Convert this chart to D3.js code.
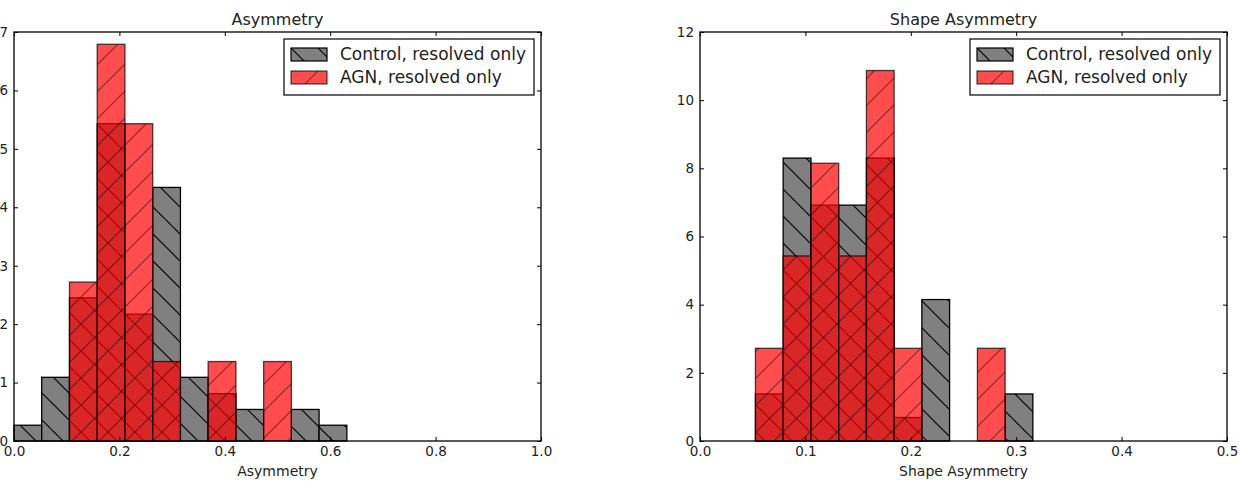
<!DOCTYPE html>
<html>
<head>
<meta charset="utf-8">
<script src="https://cdn.jsdelivr.net/npm/d3@7"></script>
<style>
  body { margin: 0; background: #fff; }
  svg text { font-family: "DejaVu Sans", sans-serif; fill: #222; }
</style>
</head>
<body>
<div id="chart"></div>
<script>
// histogram data (normalised counts)
var seriesNames = ["Control, resolved only", "AGN, resolved only"];

var asymEdges = [0, 0.0526, 0.1053, 0.1579, 0.2105, 0.2632, 0.3158, 0.3684, 0.4211, 0.4737, 0.5263, 0.5789, 0.6316];
var asymControl = [0.27, 1.09, 2.45, 5.43, 2.17, 4.34, 1.09, 0.81, 0.54, 0, 0.54, 0.27];
var asymAGN = [0, 0, 2.72, 6.79, 5.43, 1.36, 0, 1.36, 0, 1.36, 0, 0];
var asymXTicks = [0, 0.2, 0.4, 0.6, 0.8, 1.0];
var asymYTicks = [0, 1, 2, 3, 4, 5, 6, 7];

var shapeEdges = [0.0526, 0.0789, 0.1053, 0.1316, 0.1579, 0.1842, 0.2105, 0.2368, 0.2632, 0.2895, 0.3158];
var shapeControl = [1.38, 8.30, 6.92, 6.92, 8.30, 0.69, 4.15, 0, 0, 1.38];
var shapeAGN = [2.72, 5.43, 8.15, 5.43, 10.87, 2.72, 0, 0, 2.72, 0];
var shapeXTicks = [0, 0.1, 0.2, 0.3, 0.4, 0.5];
var shapeYTicks = [0, 2, 4, 6, 8, 10, 12];

var width = 1240, height = 485;

var svg = d3.select("#chart")
    .append("svg")
    .attr("width", width)
    .attr("height", height);

// hatch patterns, anchored to the page like matplotlib's
var defs = svg.append("defs");
var hs = 27;
var back = defs.append("pattern")
    .attr("id", "hatchBack")
    .attr("patternUnits", "userSpaceOnUse")
    .attr("width", hs).attr("height", hs);
back.append("path")
    .attr("d", `M0,0L${hs},${hs}M${-hs/2},${hs/2}L${hs/2},${hs*1.5}M${hs/2},${-hs/2}L${hs*1.5},${hs/2}`)
    .attr("stroke", "#000").attr("stroke-width", 1.2);
var fwd = defs.append("pattern")
    .attr("id", "hatchFwd")
    .attr("patternUnits", "userSpaceOnUse")
    .attr("width", hs).attr("height", hs);
fwd.append("path")
    .attr("d", `M0,${hs}L${hs},0M${-hs/2},${hs/2}L${hs/2},${-hs/2}M${hs/2},${hs*1.5}L${hs*1.5},${hs/2}`)
    .attr("stroke", "#000").attr("stroke-opacity", 0.45).attr("stroke-width", 1.2);

drawHist({
  left: 14, right: 541, top: 32, bottom: 441,
  xMax: 1.0, yMax: 7,
  edges: asymEdges, control: asymControl, agn: asymAGN,
  xTicks: asymXTicks, yTicks: asymYTicks,
  title: "Asymmetry", xLabel: "Asymmetry"
});

drawHist({
  left: 700, right: 1227, top: 32, bottom: 441,
  xMax: 0.5, yMax: 12,
  edges: shapeEdges, control: shapeControl, agn: shapeAGN,
  xTicks: shapeXTicks, yTicks: shapeYTicks,
  title: "Shape Asymmetry", xLabel: "Shape Asymmetry"
});

function drawHist(p) {
  var x = d3.scaleLinear().domain([0, p.xMax]).range([p.left, p.right]);
  var y = d3.scaleLinear().domain([0, p.yMax]).range([p.bottom, p.top]);

  var g = svg.append("g");

  var ctrl = p.control.map((v, i) => ({x0: p.edges[i], x1: p.edges[i + 1], v: v})).filter(d => d.v > 0);
  var agn = p.agn.map((v, i) => ({x0: p.edges[i], x1: p.edges[i + 1], v: v})).filter(d => d.v > 0);

  // control bars: gray, back hatch
  var cb = g.append("g").selectAll("g").data(ctrl).join("g");
  cb.append("rect")
    .attr("x", d => x(d.x0)).attr("y", d => y(d.v))
    .attr("width", d => x(d.x1) - x(d.x0)).attr("height", d => y(0) - y(d.v))
    .attr("fill", "#808080");
  cb.append("rect")
    .attr("x", d => x(d.x0)).attr("y", d => y(d.v))
    .attr("width", d => x(d.x1) - x(d.x0)).attr("height", d => y(0) - y(d.v))
    .attr("fill", "url(#hatchBack)")
    .attr("stroke", "#000").attr("stroke-width", 1.3);

  // AGN bars: translucent red, forward hatch
  var ab = g.append("g").selectAll("g").data(agn).join("g");
  ab.append("rect")
    .attr("x", d => x(d.x0)).attr("y", d => y(d.v))
    .attr("width", d => x(d.x1) - x(d.x0)).attr("height", d => y(0) - y(d.v))
    .attr("fill", "#ff0000").attr("fill-opacity", 0.7);
  ab.append("rect")
    .attr("x", d => x(d.x0)).attr("y", d => y(d.v))
    .attr("width", d => x(d.x1) - x(d.x0)).attr("height", d => y(0) - y(d.v))
    .attr("fill", "url(#hatchFwd)")
    .attr("stroke", "#000").attr("stroke-opacity", 0.7).attr("stroke-width", 1.3);

  // axes, ticks inside on all four sides
  var fmt = d3.format(".1f");
  g.append("g")
    .attr("transform", `translate(0,${p.bottom})`)
    .call(d3.axisBottom(x).tickValues(p.xTicks).tickFormat(fmt).tickSizeInner(-4).tickSizeOuter(0).tickPadding(5))
    .call(a => a.select(".domain").remove());
  g.append("g")
    .attr("transform", `translate(0,${p.top})`)
    .call(d3.axisTop(x).tickValues(p.xTicks).tickFormat("").tickSizeInner(-4).tickSizeOuter(0))
    .call(a => a.select(".domain").remove());
  g.append("g")
    .attr("transform", `translate(${p.left},0)`)
    .call(d3.axisLeft(y).tickValues(p.yTicks).tickFormat(d3.format("d")).tickSizeInner(-4).tickSizeOuter(0).tickPadding(6))
    .call(a => a.select(".domain").remove());
  g.append("g")
    .attr("transform", `translate(${p.right},0)`)
    .call(d3.axisRight(y).tickValues(p.yTicks).tickFormat("").tickSizeInner(-4).tickSizeOuter(0))
    .call(a => a.select(".domain").remove());

  g.selectAll(".tick text")
    .style("font-family", "DejaVu Sans")
    .style("font-size", "13.5px")
    .attr("fill", "#222");
  g.selectAll(".tick line").attr("stroke", "#000").attr("stroke-width", 1);

  // frame
  g.append("rect")
    .attr("x", p.left).attr("y", p.top)
    .attr("width", p.right - p.left).attr("height", p.bottom - p.top)
    .attr("fill", "none").attr("stroke", "#000").attr("stroke-width", 1.3);

  g.append("text")
    .attr("x", (p.left + p.right) / 2).attr("y", 25)
    .attr("text-anchor", "middle")
    .style("font-size", "16px")
    .text(p.title);

  g.append("text")
    .attr("x", (p.left + p.right) / 2).attr("y", 476)
    .attr("text-anchor", "middle")
    .style("font-size", "14px")
    .text(p.xLabel);

  // legend
  var lx = p.right - 257, ly = 39;
  var legend = g.append("g").attr("transform", `translate(${lx},${ly})`);
  legend.append("rect")
    .attr("width", 250).attr("height", 56)
    .attr("fill", "#fff").attr("stroke", "#000").attr("stroke-width", 1.2);

  var items = legend.selectAll(".item")
    .data(seriesNames)
    .join("g")
    .attr("class", "item")
    .attr("transform", (d, i) => `translate(7,${9 + 23 * i})`);
  items.append("rect")
    .attr("width", 36).attr("height", 13)
    .attr("fill", (d, i) => i == 0 ? "#808080" : "#ff0000")
    .attr("fill-opacity", (d, i) => i == 0 ? 1 : 0.7);
  items.append("rect")
    .attr("width", 36).attr("height", 13)
    .attr("fill", (d, i) => i == 0 ? "url(#hatchBack)" : "url(#hatchFwd)")
    .attr("stroke", "#000").attr("stroke-opacity", (d, i) => i == 0 ? 1 : 0.7).attr("stroke-width", 1.2);
  items.append("text")
    .attr("x", 49).attr("y", 6.5)
    .attr("dy", "0.35em")
    .style("font-size", "17px")
    .text(d => d);
}
</script>
</body>
</html>
